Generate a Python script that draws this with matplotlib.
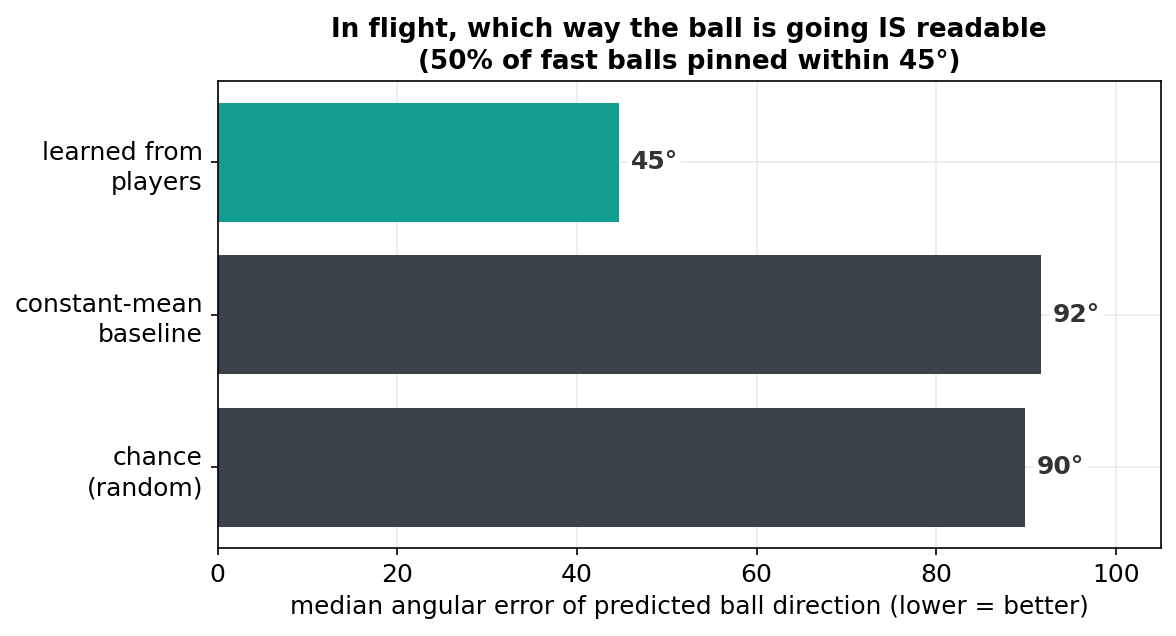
import matplotlib
matplotlib.use("Agg")
import matplotlib.pyplot as plt

categories = ["learned from\nplayers", "constant-mean\nbaseline", "chance\n(random)"]
errors = [44.7, 91.7, 89.9]
labels = ["45°", "92°", "90°"]
colors = ["#119e8f", "#3c424a", "#3c424a"]

fig, ax = plt.subplots(figsize=(7.84, 4.24), dpi=150)
ax.set_axisbelow(True)
ax.grid(True, color="#ebebeb", linewidth=0.8)

ypos = list(range(len(categories)))
ax.barh(ypos, errors, height=0.78, color=colors)
for y, v, lab in zip(ypos, errors, labels):
    ax.text(v + 1.3, y, lab, va="center", ha="left", fontsize=12,
            fontweight="bold", color="#333333",
            bbox=dict(facecolor="white", edgecolor="none", pad=1.5))

ax.set_yticks(ypos)
ax.set_yticklabels(categories, fontsize=12, linespacing=1.32)
ax.invert_yaxis()
ax.set_xlim(0, 105)
ax.tick_params(axis="x", labelsize=12)
ax.set_xlabel("median angular error of predicted ball direction (lower = better)", fontsize=11.9)
ax.set_title("In flight, which way the ball is going IS readable\n(50% of fast balls pinned within 45°)",
             fontsize=12.6, fontweight="bold", linespacing=1.3)

fig.subplots_adjust(left=0.185, right=0.987, top=0.872, bottom=0.138)
fig.savefig("out.png", dpi=150)
